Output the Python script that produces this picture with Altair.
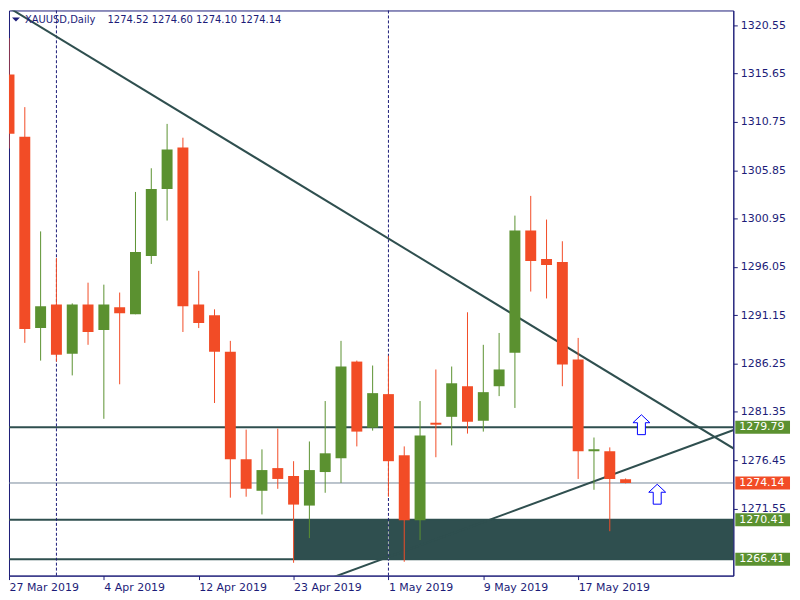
import json
import altair as alt
import numpy as np
import pandas as pd

# ---------------- data ----------------
dates = ["27 Mar", "28 Mar", "29 Mar", "1 Apr", "2 Apr", "3 Apr", "4 Apr", "5 Apr",
         "8 Apr", "9 Apr", "10 Apr", "11 Apr", "12 Apr", "15 Apr", "16 Apr", "17 Apr",
         "18 Apr", "22 Apr", "23 Apr", "24 Apr", "25 Apr", "26 Apr", "29 Apr", "30 Apr",
         "1 May", "2 May", "3 May", "6 May", "7 May", "8 May", "9 May", "10 May",
         "13 May", "14 May", "15 May", "16 May", "17 May", "20 May", "21 May", "22 May"]
opens = [1315.55, 1309.25, 1289.85, 1292.25, 1287.25, 1292.25, 1289.65, 1291.95,
         1291.25, 1297.15, 1303.95, 1308.15, 1292.25, 1291.15, 1287.45, 1276.55,
         1273.35, 1275.65, 1274.85, 1271.85, 1275.25, 1276.65, 1286.45, 1279.75,
         1283.15, 1276.95, 1270.35, 1280.25, 1280.85, 1283.95, 1280.45, 1283.95,
         1287.35, 1299.75, 1296.85, 1296.55, 1286.65, 1277.35, 1277.35, 1274.52]
highs = [1319.25, 1312.25, 1299.65, 1296.95, 1292.35, 1294.45, 1294.25, 1293.45,
         1303.65, 1306.05, 1310.55, 1309.15, 1295.65, 1291.75, 1288.55, 1279.55,
         1277.55, 1279.65, 1276.35, 1278.35, 1282.45, 1288.55, 1286.55, 1286.05,
         1287.05, 1277.85, 1282.45, 1285.65, 1285.95, 1291.45, 1288.15, 1289.35,
         1301.25, 1303.25, 1300.85, 1298.65, 1288.85, 1278.75, 1277.75, 1274.60]
lows = [1308.05, 1288.35, 1286.55, 1286.45, 1285.05, 1288.15, 1280.65, 1284.15,
        1291.25, 1296.35, 1300.75, 1289.45, 1289.85, 1282.25, 1272.65, 1272.75,
        1270.95, 1273.55, 1266.05, 1268.55, 1273.15, 1274.15, 1277.85, 1279.45,
        1272.75, 1266.15, 1268.35, 1276.75, 1277.95, 1279.15, 1279.35, 1282.95,
        1281.75, 1293.55, 1292.85, 1283.95, 1274.55, 1273.45, 1269.25, 1274.10]
closes = [1309.55, 1289.75, 1292.05, 1287.15, 1292.25, 1289.45, 1292.25, 1291.35,
          1297.55, 1303.95, 1307.95, 1292.05, 1290.35, 1287.45, 1276.55, 1273.55,
          1275.45, 1274.55, 1271.95, 1275.45, 1277.15, 1285.95, 1279.35, 1283.25,
          1276.35, 1270.35, 1278.95, 1280.05, 1284.25, 1280.35, 1283.35, 1285.65,
          1299.75, 1296.65, 1296.25, 1286.15, 1277.35, 1277.55, 1274.55, 1274.14]

# axis ticks
y_ticks = [1320.55, 1315.65, 1310.75, 1305.85, 1300.95, 1296.05, 1291.15,
           1286.25, 1281.35, 1276.45, 1271.55]
x_tick_idx = [0, 6, 12, 18, 24, 30, 36]
x_tick_labels = ["27 Mar 2019", "4 Apr 2019", "12 Apr 2019", "23 Apr 2019",
                 "1 May 2019", "9 May 2019", "17 May 2019"]

# objects
hlines = [1279.79, 1270.41, 1266.41]
bid = 1274.14
zone_k = [18, 60]
zone_p = [1266.41, 1270.41]
separators = [3, 24]
desc_k = [-1, 47]
desc_p = [1323.3, 1276.5]
asc_k = [19, 47]
asc_p = [1263.7, 1280.2]
arrow_k = [40, 41]
arrow_p = [1280.05, 1273.0]
price_tags = [1279.79, 1274.14, 1270.41, 1266.41]
price_tag_kind = ["line", "bid", "line", "line"]

# ---------------- style ----------------
navy = "#1c1c78"
slate = "#2f4f4f"
up_c = "#5b9130"
dn_c = "#f24c26"
font = "DejaVu Sans"

df = pd.DataFrame({"k": range(len(dates)), "date": dates, "open": opens,
                   "high": highs, "low": lows, "close": closes})
df["dir"] = np.where(df["close"] >= df["open"], "up", "down")

xs = alt.Scale(domain=[0, 45.8125], nice=False, zero=False, padding=0)
ys = alt.Scale(domain=[1264.75, 1322.05], nice=False, zero=False, padding=0)

x_axis = alt.Axis(values=x_tick_idx,
                  labelExpr=f"{json.dumps(x_tick_labels)}[indexof({json.dumps(x_tick_idx)}, datum.value)]",
                  labelAlign="left", labelPadding=2, labelFlush=False, labelOverlap=False,
                  labelBound=False, tickSize=4, grid=False, title=None)
y_axis = alt.Axis(values=y_ticks, format=".2f", orient="right", tickSize=4,
                  labelPadding=3, grid=False, title=None, labelOverlap=False,
                  labelFlush=False, labelBound=False)


def X(field):
    return alt.X(field, scale=xs, axis=x_axis, title=None)


def Y(field):
    return alt.Y(field, scale=ys, axis=y_axis, title=None)


color = alt.Color("dir:N", scale=alt.Scale(domain=["up", "down"], range=[up_c, dn_c]), legend=None)

# zone rectangle
zone = alt.Chart(pd.DataFrame({"k0": [zone_k[0]], "k1": [zone_k[1]],
                               "p0": [zone_p[0]], "p1": [zone_p[1]]})).mark_rect(
    color=slate, clip=True).encode(x=X("k0:Q"), x2="k1:Q", y=Y("p0:Q"), y2="p1:Q")

hl = alt.Chart(pd.DataFrame({"p": hlines})).mark_rule(color=slate, strokeWidth=2).encode(y=Y("p:Q"))
bidline = alt.Chart(pd.DataFrame({"p": [bid]})).mark_rule(color="#778899", strokeWidth=1).encode(y=Y("p:Q"))

sep = alt.Chart(pd.DataFrame({"k": separators})).mark_rule(
    color=navy, strokeWidth=1, strokeDash=[3, 2]).encode(x=X("k:Q"))
sep_zone = alt.Chart(pd.DataFrame({"k": [separators[1]], "p0": [zone_p[0]], "p1": [zone_p[1]]})).mark_rule(
    color="#a9b4b4", strokeWidth=1, strokeDash=[3, 2]).encode(x=X("k:Q"), y=Y("p0:Q"), y2="p1:Q")

trend_df = pd.DataFrame({"k": desc_k + asc_k, "p": desc_p + asc_p,
                         "name": ["desc", "desc", "asc", "asc"]})
trends = alt.Chart(trend_df).mark_line(color=slate, strokeWidth=2, clip=True).encode(
    x=X("k:Q"), y=Y("p:Q"), detail="name:N")

wicks = alt.Chart(df).mark_rule(strokeWidth=1, clip=True).encode(
    x=X("k:Q"), y=Y("low:Q"), y2="high:Q", color=color)
bodies = alt.Chart(df).mark_bar(size=11, clip=True).encode(
    x=X("k:Q"), y=Y("open:Q"), y2="close:Q", color=color)

arrow_path = "M0,-1 L0.85,-0.2 L0.4,-0.2 L0.4,1 L-0.4,1 L-0.4,-0.2 L-0.85,-0.2 Z"
arrows = alt.Chart(pd.DataFrame({"k": arrow_k, "p": arrow_p})).mark_point(
    shape=arrow_path, size=400, filled=True, fill="white", stroke="#0000ff",
    strokeWidth=1, opacity=1, clip=True).encode(x=X("k:Q"), y=Y("p:Q"))

# header
ohlc_text = f"{opens[-1]:.2f} {highs[-1]:.2f} {lows[-1]:.2f} {closes[-1]:.2f}"
head_df = pd.DataFrame({"t": ["XAUUSD,Daily", ohlc_text], "xpx": [16, 99]})
header = alt.Chart(head_df).mark_text(align="left", baseline="middle", font=font,
                                      fontSize=10, color=navy).encode(
    x=alt.X("xpx:Q", scale=None), y=alt.value(10), text="t:N")
tri = alt.Chart(pd.DataFrame({"a": [0]})).mark_point(
    shape="M-1,-0.5 L1,-0.5 L0,0.5 Z", size=64, filled=True, color=navy, opacity=1).encode(
    x=alt.value(7), y=alt.value(9))

# price tags on the right axis
tag_df = pd.DataFrame({"p": price_tags, "kind": price_tag_kind})
tag_color = alt.Color("kind:N", scale=alt.Scale(domain=["line", "bid"], range=[slate, "#191970"]),
                      legend=None)
tags = alt.Chart(tag_df).transform_calculate(
    top="datum.p + 0.66", bot="datum.p - 0.66").mark_rect(clip=False).encode(
    x=alt.value(730), x2=alt.value(785), y=Y("top:Q"), y2="bot:Q", color=tag_color)
tag_text = alt.Chart(tag_df).mark_text(align="left", baseline="middle", font=font,
                                       fontSize=11, color="white").encode(
    x=alt.value(734), y=Y("p:Q"), text=alt.Text("p:Q", format=".2f"))

chart = alt.layer(zone, hl, bidline, sep, sep_zone, trends, wicks, bodies, arrows,
                  header, tri, tags, tag_text).properties(
    width=728, height=568,
    padding={"left": 0, "top": 0, "right": 2, "bottom": 0},
    background="white",
).configure_view(stroke=navy, strokeWidth=1).configure_axis(
    labelFont=font, labelFontSize=11, labelColor=navy, domainColor=navy,
    tickColor=navy, domainWidth=1, tickWidth=1)

chart.save("out.html", embed_options={"renderer": "svg", "actions": False})
